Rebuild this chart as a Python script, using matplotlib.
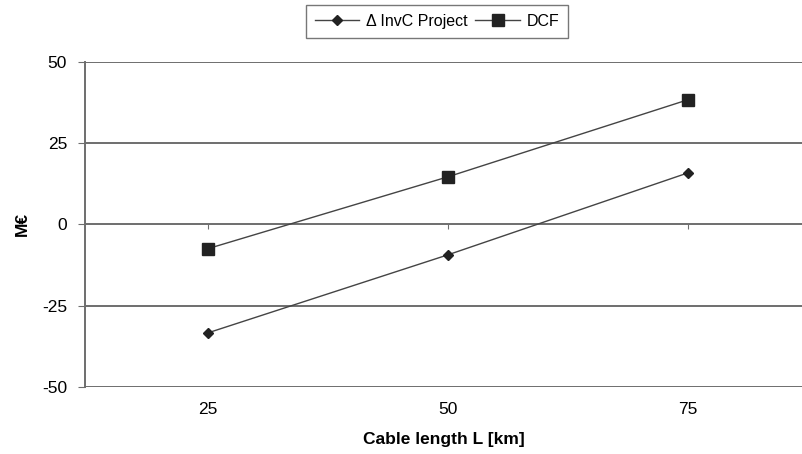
import matplotlib.pyplot as plt

plt.rcParams['font.family'] = ['Liberation Sans', 'DejaVu Sans']
plt.rcParams['axes.unicode_minus'] = False

# Cable length vs. value (M€)
cable_length = [25, 50, 75]
invc_project = [-33.4, -9.4, 15.8]
dcf = [-7.5, 14.6, 38.3]
y_ticks = [-50, -25, 0, 25, 50]

fig = plt.figure(figsize=(8.03, 4.54), dpi=100)
ax = fig.add_axes([0.106, 0.148, 0.894, 0.716])

# horizontal grid lines across the plot area
for y in y_ticks:
    ax.axhline(y, color='#6e6e6e', lw=1.4, zorder=1)

# small category ticks on the zero line
ax.vlines(cable_length, -1.3, 0, color='#6e6e6e', lw=0.8, zorder=1)

ax.plot(cable_length, invc_project, color='#444444', lw=1.0, marker='D',
        ms=5, mfc='#222222', mec='#222222', label='Δ InvC Project', zorder=3)
ax.plot(cable_length, dcf, color='#444444', lw=1.0, marker='s',
        ms=8, mfc='#222222', mec='#222222', label='DCF', zorder=3)

ax.set_xlim(12.2, 87.0)
ax.set_ylim(-50, 50)
ax.set_yticks(y_ticks)
ax.set_xticks(cable_length)
ax.tick_params(axis='y', length=5, color='#6e6e6e', labelsize=12.5, pad=8)
ax.tick_params(axis='x', length=0, labelsize=12.5, pad=11)

for side in ['top', 'right', 'bottom']:
    ax.spines[side].set_visible(False)
ax.spines['left'].set_color('#6e6e6e')
ax.spines['left'].set_linewidth(1.4)

ax.set_xlabel('Cable length L [km]', fontweight='bold', fontsize=12.5, labelpad=11)
ax.set_ylabel('M€', fontweight='bold', fontsize=12.5, labelpad=9)

leg = fig.legend(loc='center', bbox_to_anchor=(0.544, 0.953), ncol=2,
                 frameon=True, fancybox=False, fontsize=11.5, handlelength=2.8,
                 columnspacing=0.5, handletextpad=0.4, borderpad=0.55)
leg.get_frame().set_edgecolor('#555555')
leg.get_frame().set_linewidth(1.0)

fig.savefig('out.png', dpi=100)
